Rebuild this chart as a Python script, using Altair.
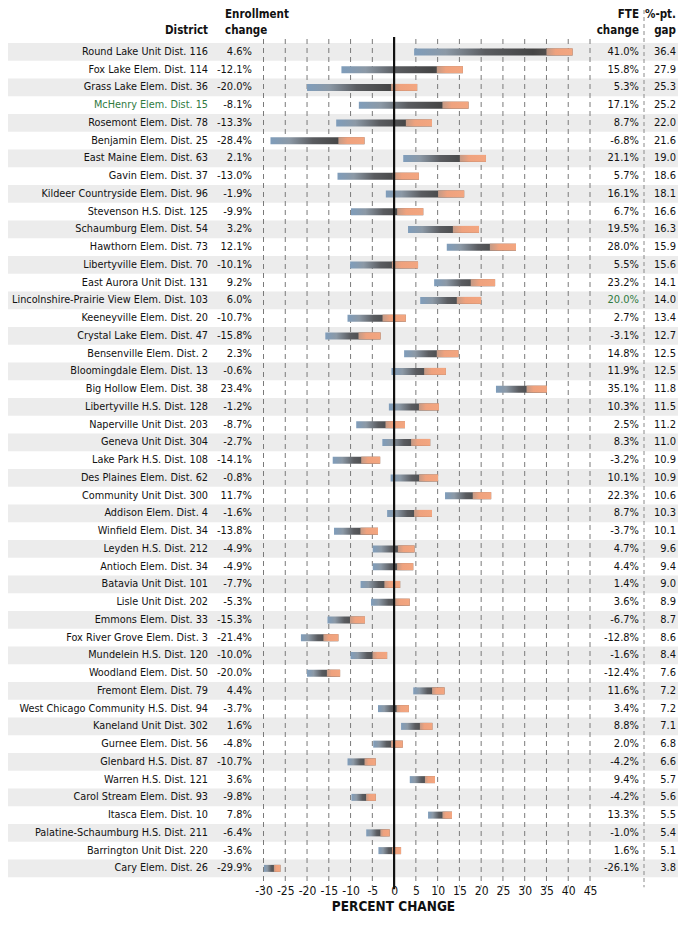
import altair as alt
import pandas as pd

districts = [
    "Round Lake Unit Dist. 116", "Fox Lake Elem. Dist. 114", "Grass Lake Elem. Dist. 36",
    "McHenry Elem. Dist. 15", "Rosemont Elem. Dist. 78", "Benjamin Elem. Dist. 25",
    "East Maine Elem. Dist. 63", "Gavin Elem. Dist. 37", "Kildeer Countryside Elem. Dist. 96",
    "Stevenson H.S. Dist. 125", "Schaumburg Elem. Dist. 54", "Hawthorn Elem. Dist. 73",
    "Libertyville Elem. Dist. 70", "East Aurora Unit Dist. 131",
    "Lincolnshire-Prairie View Elem. Dist. 103", "Keeneyville Elem. Dist. 20",
    "Crystal Lake Elem. Dist. 47", "Bensenville Elem. Dist. 2", "Bloomingdale Elem. Dist. 13",
    "Big Hollow Elem. Dist. 38", "Libertyville H.S. Dist. 128", "Naperville Unit Dist. 203",
    "Geneva Unit Dist. 304", "Lake Park H.S. Dist. 108", "Des Plaines Elem. Dist. 62",
    "Community Unit Dist. 300", "Addison Elem. Dist. 4", "Winfield Elem. Dist. 34",
    "Leyden H.S. Dist. 212", "Antioch Elem. Dist. 34", "Batavia Unit Dist. 101",
    "Lisle Unit Dist. 202", "Emmons Elem. Dist. 33", "Fox River Grove Elem. Dist. 3",
    "Mundelein H.S. Dist. 120", "Woodland Elem. Dist. 50", "Fremont Elem. Dist. 79",
    "West Chicago Community H.S. Dist. 94", "Kaneland Unit Dist. 302", "Gurnee Elem. Dist. 56",
    "Glenbard H.S. Dist. 87", "Warren H.S. Dist. 121", "Carol Stream Elem. Dist. 93",
    "Itasca Elem. Dist. 10", "Palatine-Schaumburg H.S. Dist. 211", "Barrington Unit Dist. 220",
    "Cary Elem. Dist. 26",
]
enroll = [4.6, -12.1, -20.0, -8.1, -13.3, -28.4, 2.1, -13.0, -1.9, -9.9, 3.2, 12.1, -10.1, 9.2,
          6.0, -10.7, -15.8, 2.3, -0.6, 23.4, -1.2, -8.7, -2.7, -14.1, -0.8, 11.7, -1.6, -13.8,
          -4.9, -4.9, -7.7, -5.3, -15.3, -21.4, -10.0, -20.0, 4.4, -3.7, 1.6, -4.8, -10.7, 3.6,
          -9.8, 7.8, -6.4, -3.6, -29.9]
fte = [41.0, 15.8, 5.3, 17.1, 8.7, -6.8, 21.1, 5.7, 16.1, 6.7, 19.5, 28.0, 5.5, 23.2,
       20.0, 2.7, -3.1, 14.8, 11.9, 35.1, 10.3, 2.5, 8.3, -3.2, 10.1, 22.3, 8.7, -3.7,
       4.7, 4.4, 1.4, 3.6, -6.7, -12.8, -1.6, -12.4, 11.6, 3.4, 8.8, 2.0, -4.2, 9.4,
       -4.2, 13.3, -1.0, 1.6, -26.1]
gap = [36.4, 27.9, 25.3, 25.2, 22.0, 21.6, 19.0, 18.6, 18.1, 16.6, 16.3, 15.9, 15.6, 14.1,
       14.0, 13.4, 12.7, 12.5, 12.5, 11.8, 11.5, 11.2, 11.0, 10.9, 10.9, 10.6, 10.3, 10.1,
       9.6, 9.4, 9.0, 8.9, 8.7, 8.6, 8.4, 7.6, 7.2, 7.2, 7.1, 6.8, 6.6, 5.7,
       5.6, 5.5, 5.4, 5.1, 3.8]
ticks = [-30, -25, -20, -15, -10, -5, 0, 5, 10, 15, 20, 25, 30, 35, 40, 45]
grid_ticks = [t for t in ticks if t != 0]

df = pd.DataFrame({"district": districts, "enroll": enroll, "fte": fte, "gap": gap})
df["row"] = range(len(df))

FONT = "DejaVu Sans Condensed, Liberation Sans Narrow, sans-serif"
TXT = "#111111"
N = len(districts)
ROW_H = 17.75
H = N * ROW_H
W = 670
X0, X1 = 255.5, 582
MINUS = "\u2212"

xs = alt.Scale(domain=[-30, 45], range=[X0, X1], nice=False, zero=False)
xaxis = alt.Axis(values=ticks, grid=False, ticks=False, tickSize=0, domain=False,
                 labelFont=FONT, labelFontSize=12, labelColor=TXT, labelPadding=8,
                 labelOverlap=False, labelFlush=False,
                 labelExpr=f"replace(datum.label, '{MINUS}', '-')",
                 title="PERCENT CHANGE", titleFont=FONT, titleFontSize=13.5, titleFontWeight="bold",
                 titleColor=TXT, titleX=385, titleY=29, titleAlign="center",
                 titleBaseline="middle", titleAnchor="start")
ys = alt.Scale(domain=districts, paddingInner=0, paddingOuter=0)
Y = alt.Y("district:N", sort=districts, scale=ys, axis=None)

base = alt.Chart(df)

bands = base.mark_rect(color="#ececec").encode(
    y=Y, x=alt.value(0), x2=alt.value(W)
).transform_filter("datum.row % 2 == 0")

grid = alt.Chart(pd.DataFrame({"t": grid_ticks})).mark_rule(
    color="#7a7a7a", strokeDash=[5, 4], strokeWidth=1
).encode(
    x=alt.X("t:Q", scale=xs, axis=xaxis), y=alt.value(-4), y2=alt.value(H + 10)
)

zero = alt.Chart(pd.DataFrame({"t": [0]})).mark_rule(color="#111111", strokeWidth=2.2).encode(
    x=alt.X("t:Q", scale=xs, axis=xaxis), y=alt.value(-6), y2=alt.value(H + 12)
)

sep = alt.Chart(pd.DataFrame({"t": [0]})).mark_rule(
    color="#8a8a8a", strokeDash=[4, 3], strokeWidth=1
).encode(x=alt.value(636), y=alt.value(-33), y2=alt.value(H + 10))

main_grad = alt.Gradient(
    gradient="linear", x1=0, x2=1, y1=0, y2=0,
    stops=[
        alt.GradientStop(offset=0, color="#7f9dbb"),
        alt.GradientStop(offset=0.2, color="#8c99a6"),
        alt.GradientStop(offset=0.45, color="#5a5c60"),
        alt.GradientStop(offset=0.75, color="#454545"),
        alt.GradientStop(offset=1, color="#6a625e"),
    ],
)
orange_grad = alt.Gradient(
    gradient="linear", x1=0, x2=1, y1=0, y2=0,
    stops=[
        alt.GradientStop(offset=0, color="#c39a86"),
        alt.GradientStop(offset=0.35, color="#efa27e"),
        alt.GradientStop(offset=1, color="#f3a680"),
    ],
)

bars = base.mark_bar(height=7, color=main_grad).encode(
    x=alt.X("enroll:Q", scale=xs, axis=xaxis), x2="fte:Q", y=Y
)
orange = base.transform_calculate(
    ostart="datum.fte - min(6, (datum.fte - datum.enroll) * 0.4)"
).mark_bar(height=7, color=orange_grad).encode(
    x=alt.X("ostart:Q", scale=xs, axis=xaxis), x2="fte:Q", y=Y
)

names = base.mark_text(align="right", baseline="middle", font=FONT, fontSize=10.8).encode(
    x=alt.value(200), y=Y, text="district:N",
    color=alt.condition("datum.district == 'McHenry Elem. Dist. 15'",
                        alt.value("#2f7a3f"), alt.value(TXT)),
)
enr_txt = base.transform_calculate(
    lbl=f"replace(format(datum.enroll, '.1f'), '{MINUS}', '-') + '%'"
).mark_text(align="right", baseline="middle", font=FONT, fontSize=11, color=TXT).encode(
    x=alt.value(244), y=Y, text="lbl:N"
)
fte_txt = base.transform_calculate(
    lbl=f"replace(format(datum.fte, '.1f'), '{MINUS}', '-') + '%'"
).mark_text(align="right", baseline="middle", font=FONT, fontSize=11).encode(
    x=alt.value(631), y=Y, text="lbl:N",
    color=alt.condition("datum.district == 'Lincolnshire-Prairie View Elem. Dist. 103'",
                        alt.value("#2f7a3f"), alt.value(TXT)),
)
gap_txt = base.transform_calculate(
    lbl="format(datum.gap, '.1f')"
).mark_text(align="right", baseline="middle", font=FONT, fontSize=11, color=TXT).encode(
    x=alt.value(668), y=Y, text="lbl:N"
)


def header(text, x, y, align):
    return alt.Chart(pd.DataFrame({"h": [text]})).mark_text(
        align=align, baseline="middle", font=FONT, fontSize=11.5, fontWeight="bold", color=TXT
    ).encode(x=alt.value(x), y=alt.value(y), text="h:N")


headers = [
    header("District", 200, -12, "right"),
    header("Enrollment", 217, -28, "left"),
    header("change", 217, -12, "left"),
    header("FTE", 631, -28, "right"),
    header("change", 631, -12, "right"),
    header("%-pt.", 668, -28, "right"),
    header("gap", 668, -12, "right"),
]

chart = alt.layer(
    bands, grid, sep, bars, orange, zero, names, enr_txt, fte_txt, gap_txt, *headers
).properties(
    width=W, height=H,
    autosize=alt.AutoSizeParams(type="none"),
    padding={"left": 0, "right": 0, "top": 35, "bottom": 36},
    background="white",
).configure_view(stroke=None)

chart.save("out.html", embed_options={"renderer": "svg", "actions": False})
